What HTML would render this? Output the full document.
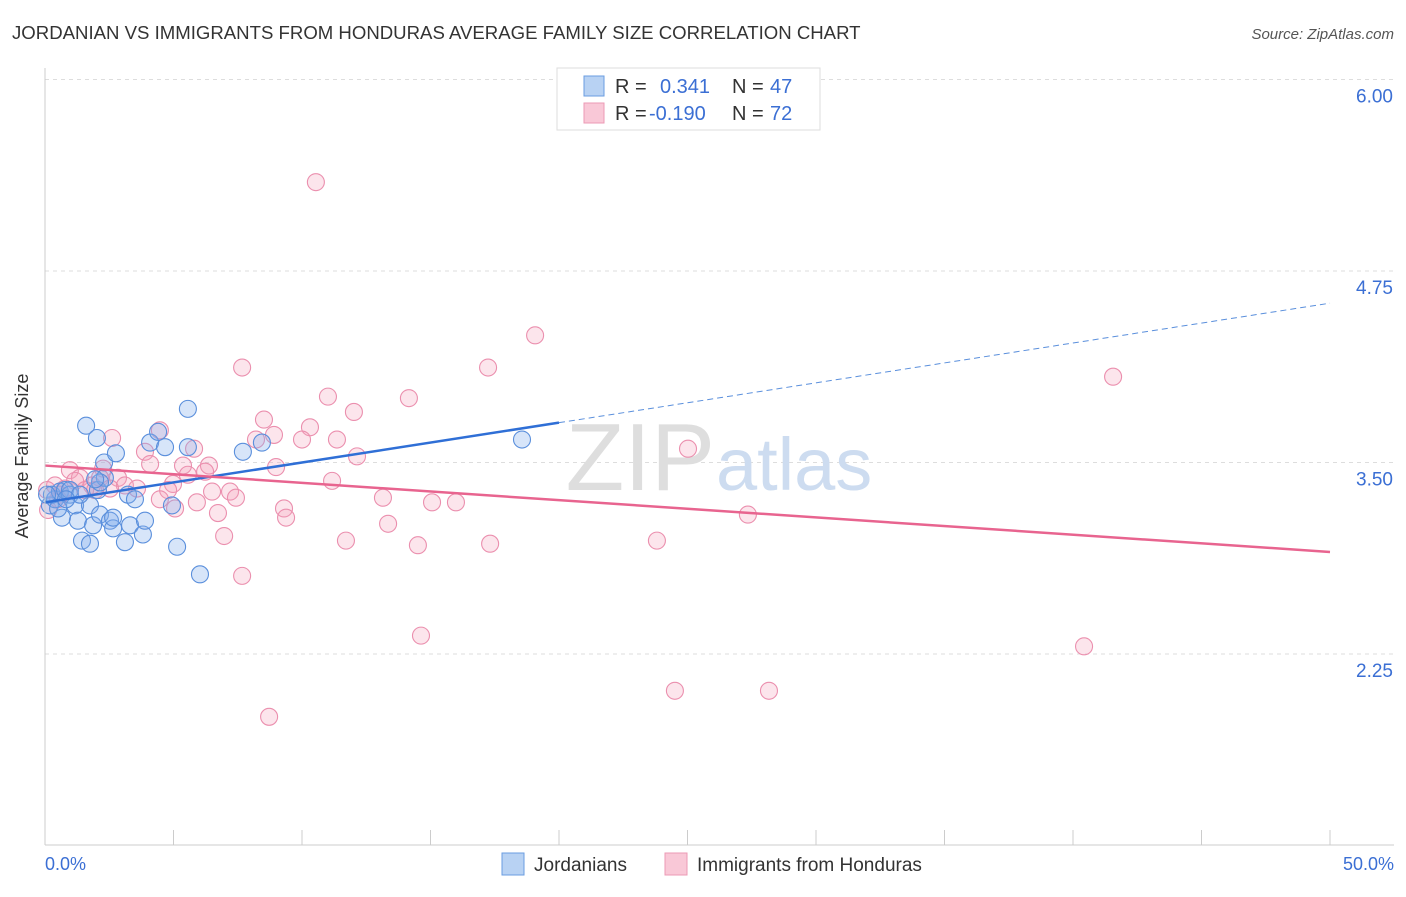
<!DOCTYPE html>
<html><head><meta charset="utf-8"><style>
body{margin:0;background:#fff;font-family:"Liberation Sans",sans-serif;}
svg text{font-family:"Liberation Sans",sans-serif;}
</style></head><body>
<svg id="c" width="1406" height="892">
<text x="12" y="39" font-size="18.6" fill="#333">JORDANIAN VS IMMIGRANTS FROM HONDURAS AVERAGE FAMILY SIZE CORRELATION CHART</text>
<text x="1394" y="39" font-size="15" fill="#555" font-style="italic" text-anchor="end">Source: ZipAtlas.com</text>
<text x="28" y="456" font-size="18" fill="#333" text-anchor="middle" transform="rotate(-90 28 456)">Average Family Size</text>
<g id="grid"></g>
<text x="715" y="490" font-size="96" fill="#dedede" text-anchor="end" font-family="Liberation Serif">ZIP</text>
<text x="716" y="490" font-size="74" fill="#cddcf0">atlas</text>
<g id="pts"></g>
<g id="lines"></g>
<line x1="45" y1="68" x2="45" y2="845" stroke="#ccc"/>
<line x1="45" y1="845" x2="1394" y2="845" stroke="#ccc"/>
<text x="45" y="870" font-size="18" fill="#3b6fd4">0.0%</text>
<text x="1394" y="870" font-size="18" fill="#3b6fd4" text-anchor="end">50.0%</text>
<g>
<rect x="557" y="68" width="263" height="62" fill="#fff" stroke="#ddd"/>
<rect x="584" y="76" width="20" height="20" fill="#b8d2f3" stroke="#6a9ce0"/>
<rect x="584" y="103" width="20" height="20" fill="#f9c8d7" stroke="#ec9ab4"/>
<text x="615" y="93" font-size="20" fill="#333">R =</text>
<text x="660" y="93" font-size="20" fill="#3b6fd4">0.341</text>
<text x="732" y="93" font-size="20" fill="#333">N =</text>
<text x="770" y="93" font-size="20" fill="#3b6fd4">47</text>
<text x="615" y="120" font-size="20" fill="#333">R =</text>
<text x="649" y="120" font-size="20" fill="#3b6fd4">-0.190</text>
<text x="732" y="120" font-size="20" fill="#333">N =</text>
<text x="770" y="120" font-size="20" fill="#3b6fd4">72</text>
</g>
<g>
<rect x="502" y="853" width="22" height="22" fill="#b8d2f3" stroke="#6a9ce0"/>
<text x="534" y="871" font-size="19" fill="#333">Jordanians</text>
<rect x="665" y="853" width="22" height="22" fill="#f9c8d7" stroke="#ec9ab4"/>
<text x="697" y="871" font-size="19" fill="#333">Immigrants from Honduras</text>
</g>
</svg>
<script>
const yTicks=[6.00,4.75,3.50,2.25];
const xTickCount=10;
const blueX=[0.19,0.39,0.27,0.58,0.78,0.66,0.97,1.17,1.28,1.44,1.60,1.75,1.75,1.87,2.02,2.06,2.14,2.30,2.33,2.53,2.65,2.76,3.11,3.23,3.31,3.50,3.81,3.89,4.09,4.40,4.67,4.94,5.14,5.56,5.56,6.03,7.70,8.44,18.56,0.97,0.51,0.08,2.14,2.65,1.36,0.82,1.95];
const blueY=[3.22,3.26,3.29,3.31,3.32,3.14,3.29,3.22,3.12,2.99,3.74,2.97,3.22,3.09,3.66,3.32,3.16,3.50,3.40,3.12,3.07,3.56,2.98,3.29,3.09,3.26,3.03,3.12,3.63,3.70,3.60,3.22,2.95,3.85,3.60,2.77,3.57,3.63,3.65,3.32,3.20,3.29,3.37,3.14,3.29,3.26,3.39];
const pinkX=[10.54,19.07,7.67,17.24,41.56,11.01,14.16,8.52,12.02,10.31,4.47,8.91,10.0,11.36,2.61,8.21,5.80,25.02,3.89,12.14,4.09,5.37,6.38,8.99,0.97,2.26,1.36,2.14,2.84,5.56,6.23,11.17,3.11,1.83,3.58,4.98,0.39,4.79,6.50,7.20,7.43,13.15,15.06,15.99,5.91,5.06,9.30,9.38,6.73,27.35,13.35,6.97,11.71,17.32,23.81,14.51,7.67,14.63,40.43,24.51,28.17,8.72,0.12,0.58,0.78,1.17,1.56,0.51,0.08,2.53,1.95,4.47];
const pinkY=[5.33,4.33,4.12,4.12,4.06,3.93,3.92,3.78,3.83,3.73,3.71,3.68,3.65,3.65,3.66,3.65,3.59,3.59,3.57,3.54,3.49,3.48,3.48,3.47,3.45,3.46,3.40,3.40,3.40,3.42,3.44,3.38,3.35,3.35,3.33,3.36,3.35,3.32,3.31,3.31,3.27,3.27,3.24,3.24,3.24,3.20,3.20,3.14,3.17,3.16,3.10,3.02,2.99,2.97,2.99,2.96,2.76,2.37,2.30,2.01,2.01,1.84,3.19,3.29,3.33,3.38,3.32,3.26,3.32,3.33,3.32,3.26];
const blueTrend=[3.24,4.54];
const pinkTrend=[3.48,2.916];
const X=v=>45+v/50*1285;
const Y=v=>79.5+(6-v)*153.2;
const NS='http://www.w3.org/2000/svg';
function mk(t,a,p){const e=document.createElementNS(NS,t);for(const k in a)e.setAttribute(k,a[k]);p.appendChild(e);return e;}
const grid=document.getElementById('grid');
yTicks.forEach(v=>{
 const l=mk('line',{x1:45,x2:1394,y1:Y(v),y2:Y(v),stroke:'#ddd','stroke-dasharray':'4 4'},grid);
 
 
 const t=mk('text',{x:1393,y:Y(v)+23,'font-size':19,fill:'#3b6fd4','text-anchor':'end'},grid);
 t.textContent=v.toFixed(2);
 
 
});
for(let i=0;i<=xTickCount;i++){
 const l=mk('line',{x1:X(i*5),x2:X(i*5),y1:830,y2:845,stroke:'#ccc'},grid);
 
 
}
const pts=document.getElementById('pts');
pinkX.forEach((x,i)=>{
 const c=mk('circle',{cx:X(x),cy:Y(pinkY[i]),r:8.5,fill:'rgba(244,160,188,0.28)',stroke:'#eb8fae','stroke-width':1.1},pts);
 
 
});
blueX.forEach((x,i)=>{
 const c=mk('circle',{cx:X(x),cy:Y(blueY[i]),r:8.5,fill:'rgba(130,175,235,0.32)',stroke:'#5a8fdc','stroke-width':1.1},pts);
 
 
});
const lines=document.getElementById('lines');
const bAt=x=>blueTrend[0]+(blueTrend[1]-blueTrend[0])*x/50;
let l1=mk('line',{x1:X(0),y1:Y(bAt(0)),x2:X(20),y2:Y(bAt(20)),stroke:'#2f6fd6','stroke-width':2.5},lines);


let l2=mk('line',{x1:X(20),y1:Y(bAt(20)),x2:X(50),y2:Y(bAt(50)),stroke:'#5a8fdc','stroke-width':1,'stroke-dasharray':'6 4'},lines);


let l3=mk('line',{x1:X(0),y1:Y(pinkTrend[0]),x2:X(50),y2:Y(pinkTrend[1]),stroke:'#e8648f','stroke-width':2.5},lines);


</script>
</body></html>
